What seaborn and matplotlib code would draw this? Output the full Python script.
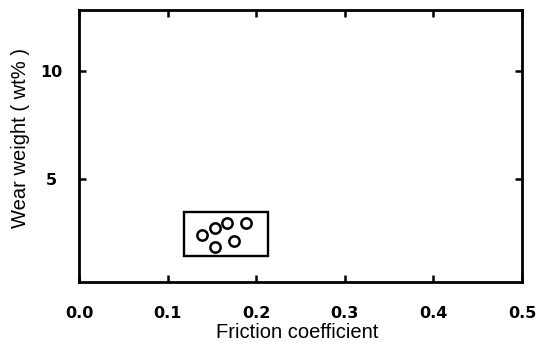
import seaborn as sns
import pandas as pd
import matplotlib.pyplot as plt
from matplotlib.patches import Rectangle

# values
friction = [0.139, 0.153, 0.167, 0.189, 0.153, 0.175]
wear = [2.44, 2.72, 2.98, 2.98, 1.87, 2.14]
box_x = [0.119, 0.213]
box_y = [1.45, 3.49]
x_ticks = [0.0, 0.1, 0.2, 0.3, 0.4, 0.5]
y_ticks = [5, 10]

sns.set_style("ticks")
plt.rcParams["font.family"] = ["Liberation Sans", "DejaVu Sans"]
plt.rcParams["text.color"] = "black"
plt.rcParams["axes.labelcolor"] = "black"
plt.rcParams["xtick.color"] = "black"
plt.rcParams["ytick.color"] = "black"
plt.rcParams["axes.edgecolor"] = "black"

df = pd.DataFrame({"friction": friction, "wear": wear})

fig = plt.figure(figsize=(5.41, 3.47), dpi=100)
ax = fig.add_axes([79 / 541, 1 - 282 / 347, 443 / 541, 272 / 347])

sns.scatterplot(data=df, x="friction", y="wear", ax=ax, s=55,
                marker="o", facecolor="white", edgecolor="black", linewidth=1.8)

ax.add_patch(Rectangle((box_x[0], box_y[0]), box_x[1] - box_x[0], box_y[1] - box_y[0],
                       fill=False, edgecolor="black", linewidth=1.7))

ax.set_xlim(0, 0.5)
ax.set_ylim(0.25, 12.8)
ax.set_xticks(x_ticks)
ax.set_xticklabels([f"{t:.1f}" for t in x_ticks])
ax.set_yticks(y_ticks)

for sp in ax.spines.values():
    sp.set_visible(True)
    sp.set_linewidth(2)
ax.tick_params(direction="in", length=5, width=1.8, top=True, right=True)
ax.tick_params(axis="x", pad=17.5)
ax.tick_params(axis="y", pad=20)
for lab in ax.get_xticklabels() + ax.get_yticklabels():
    lab.set_fontfamily("DejaVu Sans")
    lab.set_fontweight("bold")
    lab.set_fontsize(11.5)
for lab in ax.get_yticklabels():
    lab.set_horizontalalignment("center")

ax.set_xlabel("Friction coefficient", fontsize=14.5)
ax.set_ylabel("Wear weight ( wt% )", fontsize=14.5)
ax.xaxis.set_label_coords(0.492, -0.152)
ax.yaxis.set_label_coords(-0.11, 0.529)

fig.savefig("out.png", dpi=100)
